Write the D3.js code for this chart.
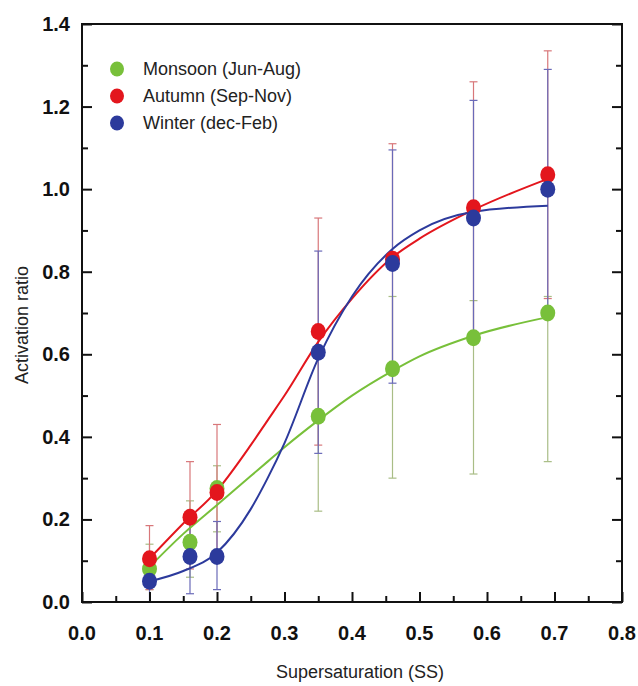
<!DOCTYPE html>
<html>
<meta charset="utf-8">
<title>Activation ratio vs supersaturation</title>
<style>
html, body { margin: 0; background: #fff; }
.tick-label { font-family: Arial, "Liberation Sans", sans-serif; font-weight: bold; font-size: 20px; fill: #111; }
.axis-title { font-family: Arial, "Liberation Sans", sans-serif; font-size: 18px; fill: #222; }
.legend text { font-family: Arial, "Liberation Sans", sans-serif; font-size: 18px; fill: #222; }
</style>
<body>
<svg></svg>
<script src="https://d3js.org/d3.v7.min.js"></script>
<script>

// supersaturation levels (%)
var ss = [0.1, 0.16, 0.2, 0.35, 0.46, 0.58, 0.69];

var monsoon = [0.08, 0.145, 0.275, 0.45, 0.565, 0.64, 0.70];
var monsoonHi = [0.14, 0.245, 0.33, 0.62, 0.74, 0.73, 0.74];
var monsoonLo = [0.03, 0.06, 0.17, 0.22, 0.30, 0.31, 0.34];

var autumn = [0.105, 0.205, 0.265, 0.655, 0.83, 0.955, 1.035];
var autumnHi = [0.185, 0.34, 0.43, 0.93, 1.11, 1.26, 1.335];
var autumnLo = [0.03, 0.08, 0.10, 0.38, 0.56, 0.65, 0.735];

var winter = [0.05, 0.11, 0.11, 0.605, 0.82, 0.93, 1.00];
var winterHi = [0.09, 0.19, 0.195, 0.85, 1.095, 1.215, 1.29];
var winterLo = [0.0, 0.02, 0.03, 0.36, 0.53, 0.64, 0.71];

// fitted curves
var fitX = [0.1, 0.15, 0.2, 0.25, 0.275, 0.3, 0.35, 0.4, 0.46, 0.5, 0.58, 0.69];
var monsoonFit = [0.085, 0.165, 0.235, 0.305, 0.34, 0.375, 0.44, 0.50, 0.56, 0.595, 0.645, 0.69];
var autumnFit = [0.105, 0.19, 0.27, 0.38, 0.44, 0.50, 0.63, 0.735, 0.835, 0.88, 0.95, 1.025];
var winterFit = [0.05, 0.075, 0.12, 0.225, 0.30, 0.385, 0.59, 0.74, 0.855, 0.90, 0.945, 0.96];

var xTicks = [0.0, 0.1, 0.2, 0.3, 0.4, 0.5, 0.6, 0.7, 0.8];
var yTicks = [0.0, 0.2, 0.4, 0.6, 0.8, 1.0, 1.2, 1.4];

var series = [
  {name: "Monsoon (Jun-Aug)", y: monsoon, hi: monsoonHi, lo: monsoonLo, fit: monsoonFit, color: "#78c03a", bar: "#a9bd86"},
  {name: "Autumn (Sep-Nov)", y: autumn, hi: autumnHi, lo: autumnLo, fit: autumnFit, color: "#e3161d", bar: "#d8777a"},
  {name: "Winter (dec-Feb)", y: winter, hi: winterHi, lo: winterLo, fit: winterFit, color: "#2c3a9c", bar: "#6a6ab8"}
];

var W = 638, H = 686;
var svg = d3.select("svg").attr("width", W).attr("height", H);

var margin = {top: 24, right: 16, bottom: 84, left: 82},
    width = W - margin.left - margin.right,
    height = H - margin.top - margin.bottom;

var x = d3.scaleLinear().domain([0, 0.8]).range([0, width]),
    y = d3.scaleLinear().domain([0, 1.4]).range([height, 0]);

var g = svg.append("g")
    .attr("transform", "translate(" + margin.left + "," + margin.top + ")");

// error bars
series.forEach(function(s) {
  var eb = g.append("g").attr("stroke", s.bar).attr("stroke-width", 1.2);
  ss.forEach(function(v, i) {
    eb.append("line").attr("x1", x(v)).attr("x2", x(v)).attr("y1", y(s.lo[i])).attr("y2", y(s.hi[i]));
    [s.lo[i], s.hi[i]].forEach(function(e) {
      eb.append("line").attr("x1", x(v) - 4).attr("x2", x(v) + 4).attr("y1", y(e)).attr("y2", y(e));
    });
  });
});

// fitted curves
var line = d3.line().x(function(d) { return x(d[0]); }).y(function(d) { return y(d[1]); }).curve(d3.curveMonotoneX);
series.forEach(function(s) {
  g.append("path")
    .datum(fitX.map(function(v, i) { return [v, s.fit[i]]; }))
    .attr("fill", "none")
    .attr("stroke", s.color)
    .attr("stroke-width", 2)
    .attr("d", line);
});

// points
series.forEach(function(s) {
  g.selectAll(null)
    .data(ss.map(function(v, i) { return [v, s.y[i]]; }))
    .enter().append("ellipse")
      .attr("cx", function(d) { return x(d[0]); })
      .attr("cy", function(d) { return y(d[1]); })
      .attr("rx", 7.5)
      .attr("ry", 8.5)
      .attr("fill", s.color);
});

// frame
g.append("rect").attr("width", width).attr("height", height)
  .attr("fill", "none").attr("stroke", "#111").attr("stroke-width", 2);

// bottom ticks (inward)
var xAxis = g.append("g").attr("transform", "translate(0," + height + ")");
xAxis.call(d3.axisBottom(x).tickValues(d3.range(0, 0.801, 0.05)).tickSize(-6).tickFormat(""));
xAxis.select(".domain").remove();
xAxis.selectAll(".tick line").attr("stroke", "#111").attr("stroke-width", 2)
  .attr("y2", function(d, i) { return i % 2 ? -6 : -10; });
xAxis.selectAll(".tick text").remove();

g.selectAll("text.xl")
  .data(xTicks)
  .enter().append("text")
    .attr("class", "tick-label")
    .attr("text-anchor", "middle")
    .attr("x", function(d) { return x(d); })
    .attr("y", height + 38)
    .text(function(d) { return d.toFixed(1); });

// left and right ticks (inward)
var yMinor = d3.range(0, 1.401, 0.1);
var yLeft = g.append("g").call(d3.axisLeft(y).tickValues(yMinor).tickFormat(""));
yLeft.select(".domain").remove();
yLeft.selectAll(".tick line").attr("stroke", "#111").attr("stroke-width", 2)
  .attr("x2", function(d, i) { return i % 2 ? 6 : 10; });

var yRight = g.append("g").attr("transform", "translate(" + width + ",0)")
  .call(d3.axisRight(y).tickValues(yMinor).tickFormat(""));
yRight.select(".domain").remove();
yRight.selectAll(".tick line").attr("stroke", "#111").attr("stroke-width", 2)
  .attr("x2", function(d, i) { return i % 2 ? -6 : -10; });

g.selectAll("text.yl")
  .data(yTicks)
  .enter().append("text")
    .attr("class", "tick-label")
    .attr("text-anchor", "end")
    .attr("x", -12)
    .attr("y", function(d) { return y(d) + 7; })
    .text(function(d) { return d.toFixed(1); });

// axis titles
g.append("text").attr("class", "axis-title")
  .attr("x", width / 2 + 8)
  .attr("y", height + 76)
  .attr("text-anchor", "middle")
  .text("Supersaturation (SS)");

g.append("text").attr("class", "axis-title")
  .attr("transform", "rotate(-90)")
  .attr("x", -height / 2 - 12)
  .attr("y", -54)
  .attr("text-anchor", "middle")
  .text("Activation ratio");

// legend
var legend = g.append("g").attr("class", "legend")
  .attr("transform", "translate(35,45)");
series.forEach(function(s, i) {
  var row = legend.append("g").attr("transform", "translate(0," + (i * 27) + ")");
  row.append("ellipse").attr("rx", 7).attr("ry", 7.5).attr("fill", s.color);
  row.append("text").attr("x", 26).attr("y", 6).text(s.name);
});

</script>
</body>
</html>
